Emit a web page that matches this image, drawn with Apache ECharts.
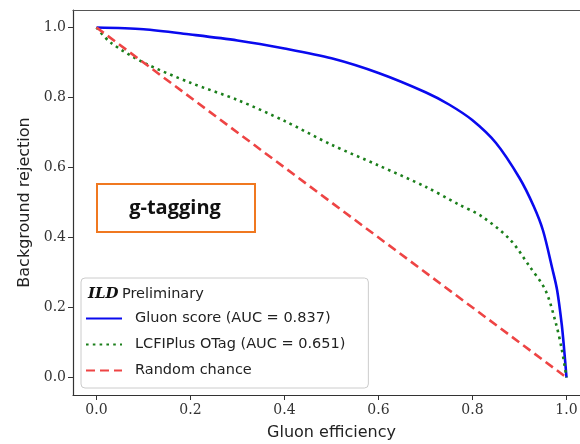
<!DOCTYPE html>
<html>
<head>
<meta charset="utf-8">
<script src="https://cdn.jsdelivr.net/npm/echarts@6/dist/echarts.min.js"></script>
<style>
html, body { margin: 0; padding: 0; background: #fff; }
#main { width: 580px; height: 444px; }
</style>
</head>
<body>
<div id="main"></div>
<script>
// tick positions on both axes
const ticks = [0, 0.2, 0.4, 0.6, 0.8, 1.0];

// gluon score ROC
const gluonX = [0, 0.1, 0.2, 0.3, 0.4, 0.5, 0.6, 0.7, 0.75, 0.8, 0.85, 0.9, 0.93, 0.95, 0.97, 0.98, 0.99, 0.995, 1.0];
const gluonY = [1.0, 0.995, 0.98, 0.963, 0.94, 0.912, 0.87, 0.815, 0.78, 0.735, 0.67, 0.57, 0.49, 0.42, 0.31, 0.25, 0.15, 0.08, 0.0];

// LCFIPlus OTag ROC
const otagX = [0, 0.03, 0.1, 0.2, 0.3, 0.4, 0.5, 0.6, 0.7, 0.77, 0.82, 0.88, 0.92, 0.955, 0.977, 0.99, 1.0];
const otagY = [1.0, 0.957, 0.9, 0.842, 0.793, 0.733, 0.665, 0.606, 0.545, 0.495, 0.46, 0.394, 0.32, 0.25, 0.157, 0.08, 0.0];

// random chance
const randX = [0, 1];
const randY = [1, 0];

const pairs = (xs, ys) => xs.map((x, i) => [x, ys[i]]);

const chart = echarts.init(document.getElementById('main'));

const serif = 'DejaVu Serif';
const sans = 'DejaVu Sans';
const axisColor = '#333';

const option = {
    animation: false,
    backgroundColor: '#fff',
    grid: {
        left: 73, top: 10, width: 517, height: 385,
        outerBoundsMode: 'none'
    },
    xAxis: [
        {
            type: 'value', min: -0.05, max: 1.05,
            name: 'Gluon efficiency', nameLocation: 'middle', nameGap: 30,
            nameTextStyle: { fontFamily: sans, fontSize: 16, color: '#222' },
            axisLine: { show: true, onZero: false, lineStyle: { color: axisColor, width: 1.2 } },
            axisTick: { show: true, length: 5, customValues: ticks, lineStyle: { color: axisColor } },
            axisLabel: { customValues: ticks, fontFamily: serif, fontSize: 14, color: '#333', margin: 8, formatter: v => v.toFixed(1) },
            splitLine: { show: false }
        },
        {
            // top frame line
            type: 'value', position: 'top', min: -0.05, max: 1.05,
            axisLine: { show: true, onZero: false, lineStyle: { color: '#555', width: 1.2 } },
            axisTick: { show: false }, axisLabel: { show: false }, splitLine: { show: false }
        }
    ],
    yAxis: {
        type: 'value', min: -0.05, max: 1.05,
        name: 'Background rejection', nameLocation: 'middle', nameGap: 40,
        nameTextStyle: { fontFamily: sans, fontSize: 16, color: '#222' },
        axisLine: { show: true, onZero: false, lineStyle: { color: axisColor, width: 1.2 } },
        axisTick: { show: true, length: 5, customValues: ticks, lineStyle: { color: axisColor } },
        axisLabel: { customValues: ticks, fontFamily: serif, fontSize: 14, color: '#333', margin: 7, formatter: v => v.toFixed(1) },
        splitLine: { show: false }
    },
    legend: {
        orient: 'vertical',
        left: 81,
        top: 278,
        width: 287,
        padding: [33, 23, 10, 4],
        itemGap: 11,
        itemWidth: 36,
        itemHeight: 14,
        backgroundColor: '#fff',
        borderColor: '#ccc',
        borderWidth: 1,
        borderRadius: 4,
        itemStyle: { opacity: 0 },
        textStyle: { fontFamily: sans, fontSize: 14.5, color: '#222', padding: [0, 0, 0, 8] },
        data: ['Gluon score (AUC = 0.837)', 'LCFIPlus OTag (AUC = 0.651)', 'Random chance']
    },
    graphic: [
        {
            type: 'text', left: 88, top: 287, z: 100,
            style: {
                rich: {
                    b: { fontFamily: serif, fontWeight: 'bold', fontStyle: 'italic', fontSize: 15, fill: '#111' },
                    n: { fontFamily: sans, fontSize: 14.5, fill: '#222' }
                },
                text: '{b|ILD} {n|Preliminary}'
            }
        },
        {
            type: 'rect', left: 96, top: 183, z: 100,
            shape: { width: 158, height: 48 },
            style: { fill: '#fff', stroke: '#f07820', lineWidth: 2 }
        },
        {
            type: 'text', x: 175, y: 208, z: 101,
            style: {
                text: 'g-tagging', fontFamily: 'Open Sans', fontWeight: 'bold', fontSize: 20,
                fill: '#111', align: 'center', verticalAlign: 'middle'
            }
        }
    ],
    series: [
        {
            name: 'Gluon score (AUC = 0.837)',
            type: 'line',
            data: pairs(gluonX, gluonY),
            smooth: 0.3,
            showSymbol: false,
            symbol: 'none',
            lineStyle: { color: '#0a0aee', width: 2.6 },
            itemStyle: { color: '#0a0aee' }
        },
        {
            name: 'LCFIPlus OTag (AUC = 0.651)',
            type: 'line',
            data: pairs(otagX, otagY),
            smooth: 0.3,
            showSymbol: false,
            symbol: 'none',
            lineStyle: { color: '#1b7f1b', width: 2.6, type: [2.6, 4.2] },
            itemStyle: { color: '#1b7f1b' }
        },
        {
            name: 'Random chance',
            type: 'line',
            data: pairs(randX, randY),
            showSymbol: false,
            symbol: 'none',
            lineStyle: { color: '#ee4444', width: 2.6, type: [9, 5] },
            itemStyle: { color: '#ee4444' }
        }
    ]
};

chart.setOption(option);
</script>
</body>
</html>
